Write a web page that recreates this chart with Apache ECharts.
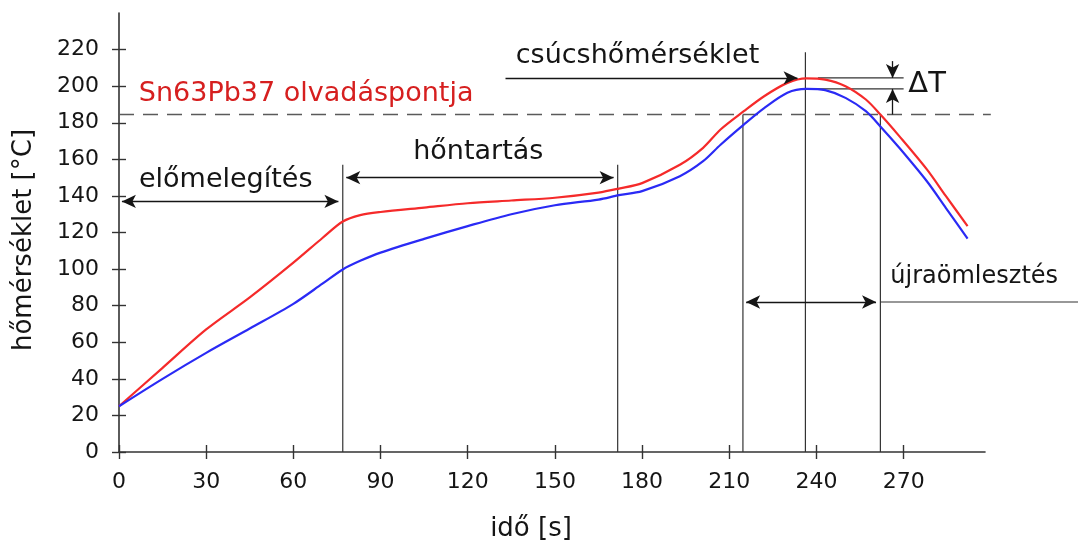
<!DOCTYPE html>
<html><head><meta charset="utf-8">
<script src="https://cdn.jsdelivr.net/npm/echarts@6/dist/echarts.min.js"></script>
<style>html,body{margin:0;padding:0;background:#fff;overflow:hidden}#c{width:1087px;height:541px}</style>
</head><body><div id="c"></div>
<script>
// ---- data ----
const xTicks = [0, 30, 60, 90, 120, 150, 180, 210, 240, 270];
const yTicks = [0, 20, 40, 60, 80, 100, 120, 140, 160, 180, 200, 220];
const time     = [0, 15, 30, 45, 60, 70, 77, 83, 90, 105, 120, 135, 150, 165, 172, 180, 193, 201, 207, 215, 222, 230, 236.5, 243, 250, 257, 262, 268.5, 278, 284.5, 292];
const redTemp  = [25, 46, 67, 84.5, 103.5, 117, 126, 129.5, 131.2, 133.6, 136, 137.5, 139, 141.8, 144, 147, 157, 166.3, 176.3, 186.3, 194.5, 201.8, 204.3, 203.6, 200, 192.7, 184.5, 172.7, 154.5, 140, 123.5];
const blueTemp = [25, 40, 54.2, 67.5, 81, 92, 99.8, 104.5, 109, 116.5, 123.5, 130, 134.9, 138, 140.4, 142.6, 150.8, 159, 168, 179, 188, 196.4, 198.5, 197.8, 193.6, 186.3, 178, 166.3, 148, 133.5, 116.6];
const phaseX   = [77, 171.6, 214.7, 236.2, 262];
const phaseTop = [157, 157, 184.5, 218.6, 184.5];
const meltTemp = 184.5;
const meltSpan = [0, 300];
const peakRed = 204.5;
const peakBlue = 198.5;
const deltaSpan = [240.5, 270];
const reflowLineSpan = [262, 330];
const reflowLevel = 82;

const FONT = 'DejaVu Sans';
const INK = '#151515';
const CLEAR = 'rgba(0,0,0,0)';

const chart = echarts.init(document.getElementById('c'), null, {renderer: 'canvas'});

function seg(pts, extra) {
  return Object.assign({
    type: 'line', data: pts, showSymbol: false, symbol: 'none', clip: false, silent: true,
    animation: false, z: 1,
    lineStyle: {color: '#333', width: 1.2}
  }, extra || {});
}

const series = [];
phaseX.forEach((x, i) => series.push(seg([[x, 0], [x, phaseTop[i]]])));
series.push(seg([[deltaSpan[0], peakRed], [deltaSpan[1], peakRed]]));
series.push(seg([[deltaSpan[0], peakBlue], [deltaSpan[1], peakBlue]]));

series.push({
  type: 'line', name: 'red', data: time.map((t, i) => [t, redTemp[i]]),
  smooth: 0.3, showSymbol: false, symbol: 'none', animation: false, z: 3,
  lineStyle: {color: '#f52a2a', width: 2.2}
});
series.push({
  type: 'line', name: 'blue', data: time.map((t, i) => [t, blueTemp[i]]),
  smooth: 0.3, showSymbol: false, symbol: 'none', animation: false, z: 3,
  lineStyle: {color: '#2a2af5', width: 2.2}
});

function lbl(text, x, y, opts) {
  return {
    name: text, coord: [x, y], symbol: 'circle', symbolSize: 1,
    itemStyle: {color: CLEAR},
    label: Object.assign({
      show: true, position: [0, 0], formatter: '{b}', fontFamily: FONT,
      fontSize: 27, color: INK, align: 'center', verticalAlign: 'middle'
    }, opts || {})
  };
}

series.push({
  type: 'line', data: [[0, 0], [298, 240]], xAxisIndex: 1, yAxisIndex: 1,
  showSymbol: false, symbol: 'none', lineStyle: {width: 0, opacity: 0},
  clip: false, silent: true, animation: false, z: 4,
  markLine: {
    silent: true, animation: false, symbol: ['arrow', 'arrow'], symbolSize: [10, 14],
    label: {show: false}, emphasis: {disabled: true},
    lineStyle: {color: INK, width: 1.3, type: 'solid'},
    data: [
      [{coord: [1, 137]}, {coord: [75.5, 137]}],
      [{coord: [78.2, 150]}, {coord: [170.2, 150]}],
      [{coord: [133, peakRed], symbol: 'none'}, {coord: [233.5, peakRed]}],
      [{coord: [215.8, reflowLevel]}, {coord: [260.5, reflowLevel]}],
      [{coord: [266.2, 213.7], symbol: 'none'}, {coord: [266.2, peakRed]}],
      [{coord: [266.2, meltTemp], symbol: 'none'}, {coord: [266.2, peakBlue]}]
    ]
  },
  markPoint: {
    silent: true, animation: false,
    data: [
      lbl('Sn63Pb37 olvadáspontja', 7, 195.4, {align: 'left', color: '#d61f1f'}),
      lbl('előmelegítés', 36.9, 148.2),
      lbl('hőntartás', 123.8, 163.5),
      lbl('csúcshőmérséklet', 178.6, 216.3),
      lbl('ΔT', 271.8, 200.8, {align: 'left', fontSize: 29}),
      lbl('újraömlesztés', 265.6, 95.4, {align: 'left', fontSize: 24})
    ]
  }
});

const axisLine = {show: true, onZero: false, lineStyle: {color: '#333', width: 1.6}};
const ghostLine = {show: true, onZero: false, lineStyle: {color: CLEAR, width: 1}};
const tickStyle = {color: '#333', width: 1.4};

chart.setOption({
  backgroundColor: '#fff',
  animation: false,
  grid: {left: 119, right: 102, top: 13, bottom: 89, containLabel: false, outerBoundsMode: 'none'},
  xAxis: [
    {
      type: 'value', min: 0, max: 298, position: 'bottom',
      axisLine: axisLine,
      axisTick: {show: true, inside: false, length: 7, lineStyle: tickStyle, customValues: xTicks},
      axisLabel: {show: true, customValues: xTicks, margin: 19, fontFamily: FONT, fontSize: 22, color: INK},
      splitLine: {show: false},
      name: 'idő [s]', nameLocation: 'middle', nameGap: 64,
      nameTextStyle: {fontFamily: FONT, fontSize: 26, color: INK, padding: [0, 42, 0, 0]}
    },
    {
      type: 'value', min: 0, max: 298, position: 'bottom',
      axisLine: ghostLine,
      axisTick: {show: true, inside: true, length: 7, lineStyle: tickStyle, customValues: xTicks},
      axisLabel: {show: true, customValues: xTicks, color: CLEAR, fontSize: 10}, splitLine: {show: false}
    }
  ],
  yAxis: [
    {
      type: 'value', min: 0, max: 240, position: 'left',
      axisLine: axisLine,
      axisTick: {show: true, inside: false, length: 7, lineStyle: tickStyle, customValues: yTicks},
      axisLabel: {show: true, customValues: yTicks, margin: 20, fontFamily: FONT, fontSize: 22, color: INK},
      splitLine: {show: false},
      name: 'hőmérséklet [°C]', nameLocation: 'middle', nameGap: 82, nameRotate: 90,
      nameTextStyle: {fontFamily: FONT, fontSize: 26, color: INK, padding: [0, 15, 0, 0]}
    },
    {
      type: 'value', min: 0, max: 240, position: 'left',
      axisLine: ghostLine,
      axisTick: {show: true, inside: true, length: 7, lineStyle: tickStyle, customValues: yTicks},
      axisLabel: {show: true, customValues: yTicks, color: CLEAR, fontSize: 10}, splitLine: {show: false}
    }
  ],
  series: series
});

// lines that run past the axis end: placed through the grid's own scale
function px(p) { return chart.convertToPixel({gridIndex: 0}, p); }
const m0 = px([meltSpan[0], meltTemp]), m1 = px([meltSpan[1], meltTemp]);
const r0 = px([reflowLineSpan[0], reflowLevel]), r1 = px([reflowLineSpan[1], reflowLevel]);
chart.setOption({
  graphic: [
    {type: 'line', silent: true, z: 2, shape: {x1: m0[0], y1: m0[1], x2: m1[0], y2: m1[1]},
     style: {stroke: '#5a5a5a', lineWidth: 1.3, lineDash: [15, 9]}},
    {type: 'line', silent: true, z: 2, shape: {x1: r0[0], y1: r0[1], x2: r1[0], y2: r1[1]},
     style: {stroke: '#333', lineWidth: 1.2}}
  ]
});
</script>
</body></html>
